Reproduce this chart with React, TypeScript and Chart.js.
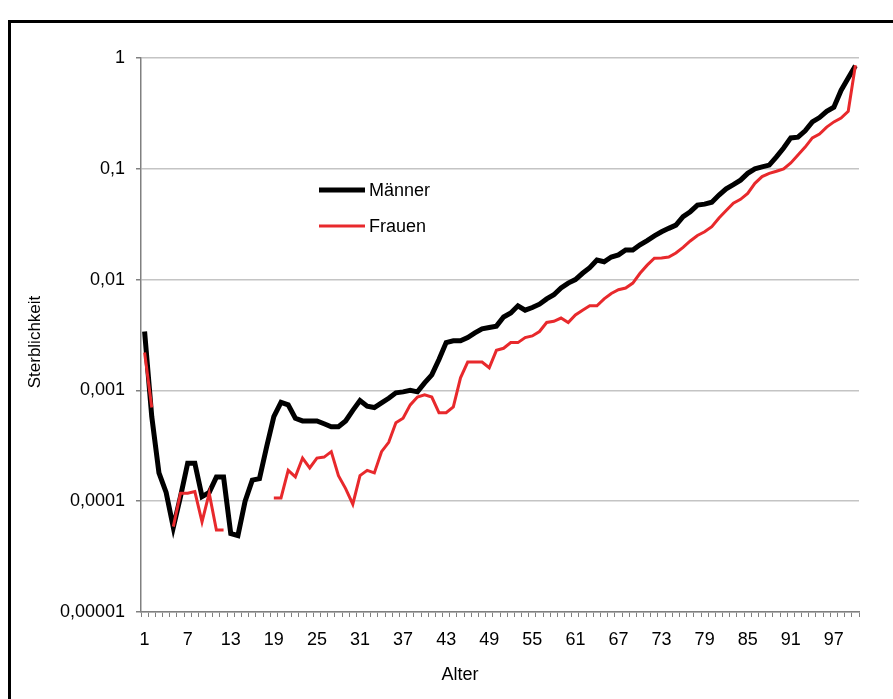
import React, { useEffect, useRef } from 'react';
import { Chart, registerables } from 'chart.js';

Chart.register(...registerables);

const ages = [
  '1','2','3','4','5','6','7','8','9','10','11','12','13','14','15','16','17','18','19','20',
  '21','22','23','24','25','26','27','28','29','30','31','32','33','34','35','36','37','38','39','40',
  '41','42','43','44','45','46','47','48','49','50','51','52','53','54','55','56','57','58','59','60',
  '61','62','63','64','65','66','67','68','69','70','71','72','73','74','75','76','77','78','79','80',
  '81','82','83','84','85','86','87','88','89','90','91','92','93','94','95','96','97','98','99','100',
];

const xTickLabels = ['1','7','13','19','25','31','37','43','49','55','61','67','73','79','85','91','97'];

const yTickValues = [0.00001, 0.0001, 0.001, 0.01, 0.1, 1];
const yTickLabels = ['0,00001', '0,0001', '0,001', '0,01', '0,1', '1'];

const maleRates = [
  0.0034, 0.00058, 0.00018, 0.00012, 0.000058, 0.00011, 0.00022, 0.00022, 0.00011, 0.00012,
  0.000165, 0.000165, 0.000051, 0.000049, 0.0001, 0.000155, 0.00016, 0.00031, 0.00058, 0.00078,
  0.00074, 0.00056, 0.00053, 0.00053, 0.00053, 0.0005, 0.00047, 0.00047, 0.00053, 0.00066,
  0.00081, 0.00072, 0.0007, 0.00077, 0.00085, 0.00095, 0.00097, 0.001, 0.00097, 0.00117,
  0.00138, 0.0019, 0.0027, 0.0028, 0.0028, 0.003, 0.0033, 0.0036, 0.0037, 0.0038,
  0.0046, 0.005, 0.0058, 0.0053, 0.0056, 0.006, 0.0067, 0.0073, 0.0084, 0.0093,
  0.01, 0.0114, 0.0128, 0.015, 0.0145, 0.016, 0.0167, 0.0185, 0.0185, 0.0206,
  0.0225, 0.0248, 0.027, 0.029, 0.031, 0.037, 0.041, 0.047, 0.048, 0.05,
  0.058, 0.066, 0.072, 0.079, 0.091, 0.1, 0.104, 0.108, 0.128, 0.154,
  0.19, 0.193, 0.22, 0.265, 0.29, 0.33, 0.36, 0.51, 0.66, 0.85,
];

const femaleRates = [
  0.0022, 0.0007, null, null, 0.000059, 0.000118, 0.000118, 0.000122, 0.000065, 0.000118,
  0.000055, 0.000055, null, null, null, null, null, null, 0.000107, 0.000107,
  0.00019, 0.000166, 0.000245, 0.0002, 0.000245, 0.00025, 0.00028, 0.00017, 0.00013, 0.000094,
  0.00017, 0.00019, 0.00018, 0.00028, 0.00034, 0.00051, 0.00056, 0.00074, 0.00087, 0.00091,
  0.00087, 0.00063, 0.00063, 0.00071, 0.0013, 0.0018, 0.0018, 0.0018, 0.0016, 0.0023,
  0.0024, 0.0027, 0.0027, 0.003, 0.0031, 0.0034, 0.0041, 0.0042, 0.0045, 0.0041,
  0.0048, 0.0053, 0.0058, 0.0058, 0.0067, 0.0075, 0.0081, 0.0084, 0.0093, 0.0114,
  0.0135, 0.0156, 0.0157, 0.016, 0.0174, 0.0195, 0.0223, 0.025, 0.027, 0.03,
  0.036, 0.042, 0.049, 0.053, 0.06, 0.074, 0.085, 0.091, 0.095, 0.1,
  0.113, 0.133, 0.157, 0.19, 0.206, 0.238, 0.265, 0.287, 0.33, 0.86,
];

const FONT = "'Liberation Sans', Arial, sans-serif";
const RED = '#e8292c';

const overlayPlugin = {
  id: 'overlay',
  afterDraw(chart: any) {
    const ctx = chart.ctx;
    ctx.save();
    // axis titles
    ctx.fillStyle = '#000';
    ctx.font = `17px ${FONT}`;
    ctx.textAlign = 'center';
    ctx.textBaseline = 'middle';
    ctx.save();
    ctx.translate(35, 342);
    ctx.rotate(-Math.PI / 2);
    ctx.fillText('Sterblichkeit', 0, 0);
    ctx.restore();
    ctx.font = `18px ${FONT}`;
    ctx.fillText('Alter', 460, 675);

    // legend
    const rows = [
      { y: 190 },
      { y: 226 },
    ];
    chart.data.datasets.forEach((ds: any, i: number) => {
      const y = rows[i].y;
      ctx.strokeStyle = ds.borderColor;
      ctx.lineWidth = ds.borderWidth;
      ctx.beginPath();
      ctx.moveTo(319, y);
      ctx.lineTo(365, y);
      ctx.stroke();
      ctx.fillStyle = '#000';
      ctx.font = `18px ${FONT}`;
      ctx.textAlign = 'left';
      ctx.textBaseline = 'middle';
      ctx.fillText(ds.label, 369, y + 1);
    });
    ctx.restore();
  },
};

export default function App() {
  const ref = useRef<HTMLCanvasElement>(null);

  useEffect(() => {
    const canvas = ref.current;
    if (!canvas) return;
    const chart = new Chart(canvas, {
      type: 'line',
      data: {
        labels: ages,
        datasets: [
          {
            label: 'Männer',
            data: maleRates,
            borderColor: '#000000',
            borderWidth: 5,
            pointRadius: 0,
            tension: 0,
            spanGaps: false,
            order: 2,
          },
          {
            label: 'Frauen',
            data: femaleRates as any,
            borderColor: RED,
            borderWidth: 3,
            pointRadius: 0,
            tension: 0,
            spanGaps: false,
            order: 1,
          },
        ],
      },
      options: {
        responsive: false,
        animation: false,
        devicePixelRatio: 1,
        layout: { padding: { left: 0, right: 34, top: 58, bottom: 0 } },
        plugins: {
          legend: { display: false },
          tooltip: { enabled: false },
        },
        scales: {
          x: {
            type: 'category',
            offset: true,
            grid: {
              offset: true,
              drawOnChartArea: false,
              drawTicks: true,
              tickLength: 5,
              tickColor: '#808080',
            },
            border: { color: '#808080', width: 1.5 },
            ticks: {
              autoSkip: false,
              maxRotation: 0,
              minRotation: 0,
              padding: 12,
              color: '#000',
              font: { family: FONT, size: 18 },
              callback: (_v: any, i: number) => (xTickLabels.includes(ages[i]) ? ages[i] : ''),
            },
            afterFit: (s: any) => {
              s.height = 87;
            },
          } as any,
          y: {
            type: 'logarithmic',
            min: 0.00001,
            max: 1,
            afterBuildTicks: (s: any) => {
              s.ticks = yTickValues.map((v) => ({ value: v }));
            },
            grid: {
              color: '#c4c4c4',
              lineWidth: 1.5,
              tickColor: '#808080',
              tickLength: 5,
            },
            border: { color: '#808080', width: 1.5 },
            ticks: {
              padding: 11,
              color: '#000',
              font: { family: FONT, size: 18 },
              callback: (_v: any, i: number) => yTickLabels[i],
            },
            afterFit: (s: any) => {
              s.width = 141;
            },
          } as any,
        },
      },
      plugins: [overlayPlugin],
    });
    return () => chart.destroy();
  }, []);

  return (
    <div
      style={{
        position: 'absolute',
        left: 0,
        top: 0,
        width: 893,
        height: 699,
        overflow: 'hidden',
        background: '#fff',
      }}
    >
      <div
        style={{
          position: 'absolute',
          left: 8,
          top: 20,
          width: 1000,
          height: 1000,
          border: '3px solid #000',
        }}
      />
      <canvas
        ref={ref}
        width={893}
        height={699}
        style={{ position: 'absolute', left: 0, top: 0, width: 893, height: 699 }}
      />
    </div>
  );
}
